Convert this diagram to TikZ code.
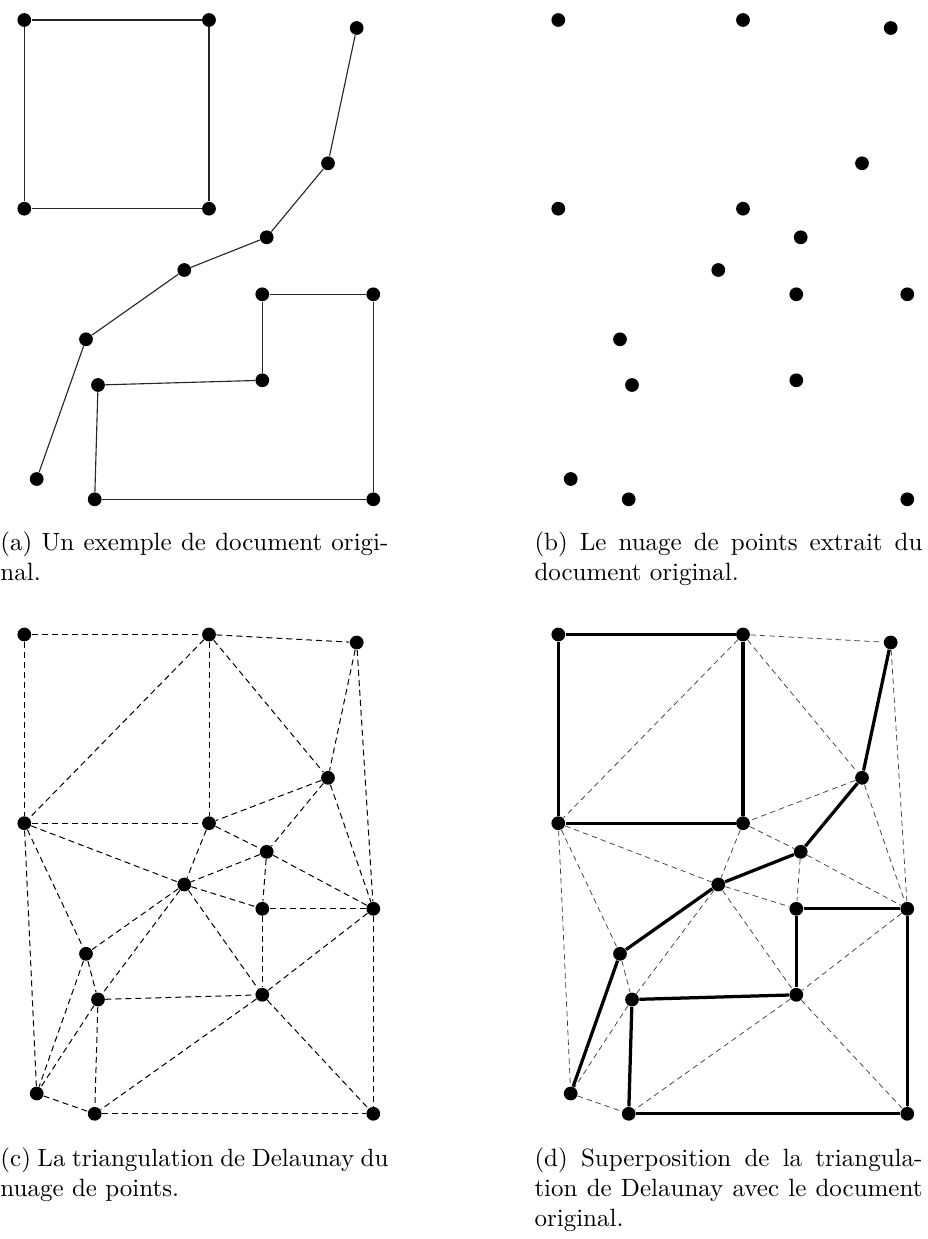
\documentclass[tikz,border=0pt]{standalone}
\usepackage{tikz}
\usetikzlibrary{positioning}

% points of the original document (pixel units)
\newcommand{\docpoints}{A/24.3/20, B/209/20, C/356.7/28, D/328/163.3, E/24.3/208.7, F/209/208.7, G/266.7/237.3, H/184.3/270, I/262.3/294.3, J/373.3/294.3, K/86/339.3, L/98/385, M/262.3/380.3, N/36.7/479, O/94.7/499.3, P/373.3/499.3}
\newcommand{\docedges}{A/B, B/F, F/E, E/A, C/D, D/G, G/H, H/K, K/N, I/J, J/P, P/O, O/L, L/M, M/I}
\newcommand{\deledges}{A/B, A/E, B/C, B/E, B/F, B/D, C/D, C/J, D/F, D/G, D/J, E/F, E/H, E/K, E/N, F/G, F/H, G/H, G/I, G/J, H/I, H/K, H/L, H/M, I/J, I/M, J/M, J/P, K/L, K/N, L/N, L/O, L/M, M/O, M/P, N/O, O/P}

\begin{document}
\begin{tikzpicture}[
  x=0.4pt, y=-0.4pt,
  font=\normalsize,
  dot/.style={circle, fill=black, inner sep=0pt, minimum size=5.5pt},
  docline/.style={line width=0.45pt, black!85},
  delline/.style={line width=0.4pt, dash pattern=on 2.4pt off 1.6pt},
  faintline/.style={line width=0.3pt, black!75, dash pattern=on 2.2pt off 1.6pt},
  boldline/.style={line width=1.3pt},
  capbox/.style={anchor=north west, inner sep=0pt, text width=155.2pt, align=justify}
]
\useasboundingbox (0,0) rectangle (927,1239);

% (a) original document
\foreach \n/\px/\py in \docpoints
  \node[dot] (a-\n) at (\px,\py) {};
\foreach \s/\t in \docedges
  \draw[docline] (a-\s) -- (a-\t);

% (b) point cloud
\begin{scope}[shift={(534,0)}]
\foreach \n/\px/\py in \docpoints
  \node[dot] (b-\n) at (\px,\py) {};
\end{scope}

% (c) Delaunay triangulation
\begin{scope}[shift={(0,614.5)}]
\foreach \n/\px/\py in \docpoints
  \node[dot] (c-\n) at (\px,\py) {};
\foreach \s/\t in \deledges
  \draw[delline] (c-\s) -- (c-\t);
\end{scope}

% (d) overlay
\begin{scope}[shift={(534,614.5)}]
\foreach \n/\px/\py in \docpoints
  \node[dot] (d-\n) at (\px,\py) {};
\foreach \s/\t in \deledges
  \draw[faintline] (d-\s) -- (d-\t);
\foreach \s/\t in \docedges
  \draw[boldline] (d-\s) -- (d-\t);
\end{scope}

% captions
\node[capbox] (capa) at (0,531) {(a) Un exemple de document origi-\linebreak nal.};
\node[capbox] (capb) at (534,531) {(b) Le nuage de points extrait du\linebreak document original.};
\node[capbox] (capc) at (0,1147) {(c) La triangulation de Delaunay du\linebreak nuage de points.};
\node[capbox] (capd) at (534,1147) {(d) Superposition de la triangula-\linebreak tion de Delaunay avec le document\linebreak original.};
\end{tikzpicture}
\end{document}
